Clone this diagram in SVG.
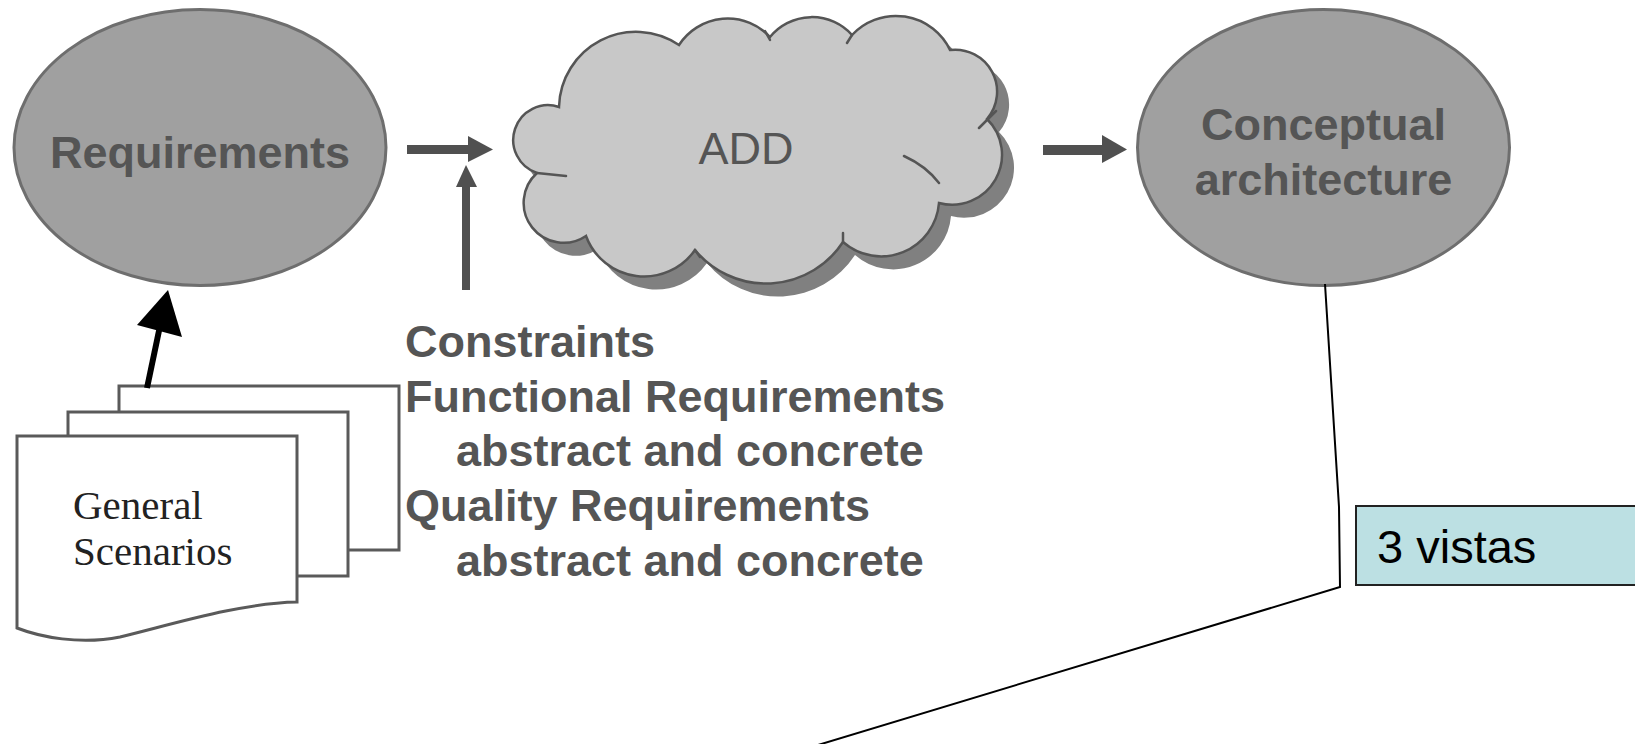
<svg xmlns="http://www.w3.org/2000/svg" width="1635" height="744" viewBox="0 0 1635 744">
  <style>
    .oval { fill: #a0a0a0; stroke: #6e6e6e; stroke-width: 3; }
    .lbl { font-family: "Liberation Sans", Arial, sans-serif; fill: #555555; }
    .bold { font-weight: bold; }
    .page { fill: #ffffff; stroke: #5a5a5a; stroke-width: 3; }
    .serif { font-family: "Liberation Serif", "Times New Roman", serif; fill: #222222; }
    .flow { fill: #505050; stroke: none; }
    .thin { fill: none; stroke: #000000; stroke-width: 2; }
    .crease { fill: none; stroke: #555555; stroke-width: 2.5; stroke-linecap: round; }
  </style>
  <defs>
    <!-- eleven overlapping bumps, traced clockwise from the upper left -->
    <path id="cloud-outline" d="M559,107
      A77,77 0 0 1 679,45
      A58,58 0 0 1 770,37
      A54,54 0 0 1 852,35
      A60,60 0 0 1 950,50
      A42,42 0 0 1 987,119
      A50,50 0 0 1 939,203
      A58,58 0 0 1 843,242
      A92,92 0 0 1 695,250
      A62,62 0 0 1 586,236
      A40,40 0 0 1 537,173
      A34,34 0 0 1 559,107 Z"/>
  </defs>

  <rect width="1635" height="744" fill="#ffffff"/>

  <!-- Requirements -->
  <g id="requirements">
    <ellipse class="oval" cx="200" cy="147.5" rx="186" ry="138"/>
    <text class="lbl bold" x="200" y="168" font-size="45" text-anchor="middle">Requirements</text>
  </g>

  <!-- ADD cloud with drop shadow -->
  <g id="add">
    <use href="#cloud-outline" transform="translate(12,13)" fill="#808080"/>
    <use href="#cloud-outline" fill="#c8c8c8" stroke="#555555" stroke-width="2.5"/>
    <path class="crease" d="M979,128 L996,111 M904,156 Q926,166 939,183 M537,173 L566,176 M765,31 L770,40 M852,35 L847,43 M843,233 L843,242 M695,250 L700,257"/>
    <text class="lbl" x="746" y="164" font-size="45" text-anchor="middle">ADD</text>
  </g>

  <!-- Conceptual architecture -->
  <g id="conceptual-architecture">
    <ellipse class="oval" cx="1323.5" cy="147.5" rx="186" ry="138"/>
    <text class="lbl bold" x="1323.5" y="140" font-size="45" text-anchor="middle">Conceptual</text>
    <text class="lbl bold" x="1323.5" y="195" font-size="45" text-anchor="middle">architecture</text>
  </g>

  <!-- General Scenarios: stacked pages -->
  <g id="general-scenarios">
    <rect class="page" x="119" y="386" width="280" height="164"/>
    <rect class="page" x="68" y="412" width="280" height="164"/>
    <path class="page" d="M17,436 H297 V602 C240,603 170,625 120,637 C80,645 40,637 17,628 Z"/>
    <text class="serif" x="73" y="519" font-size="41">General</text>
    <text class="serif" x="73" y="565" font-size="41">Scenarios</text>
  </g>

  <!-- Inputs list -->
  <g id="inputs">
    <text class="lbl bold" x="405" y="357" font-size="45">Constraints</text>
    <text class="lbl bold" x="405" y="412" font-size="45">Functional Requirements</text>
    <text class="lbl bold" x="456" y="466" font-size="45">abstract and concrete</text>
    <text class="lbl bold" x="405" y="521" font-size="45">Quality Requirements</text>
    <text class="lbl bold" x="456" y="576" font-size="45">abstract and concrete</text>
  </g>

  <!-- 3 vistas note -->
  <g id="vistas">
    <rect x="1356" y="506" width="290" height="79" fill="#bce0e3" stroke="#222222" stroke-width="2"/>
    <text x="1377" y="563" font-size="47" font-family="Liberation Sans, Arial, sans-serif" fill="#000000">3 vistas</text>
  </g>

  <!-- Connectors -->
  <g id="connectors">
    <!-- Requirements to ADD -->
    <rect class="flow" x="407" y="145" width="63" height="9"/>
    <polygon class="flow" points="468,136 493,149.5 468,162"/>
    <!-- inputs up into the flow -->
    <rect class="flow" x="462" y="184" width="8" height="106"/>
    <polygon class="flow" points="456,187 466,165 477,187"/>
    <!-- ADD to Conceptual architecture -->
    <rect class="flow" x="1043" y="145" width="61" height="10"/>
    <polygon class="flow" points="1102,135 1127,149.5 1102,163"/>
    <!-- General Scenarios to Requirements -->
    <line x1="147" y1="388" x2="160" y2="326" stroke="#000000" stroke-width="6"/>
    <polygon points="168,290 137,325 182,337" fill="#000000"/>
    <!-- callout from Conceptual architecture -->
    <polyline class="thin" points="1325,284 1339,507 1340,587 818,745"/>
  </g>
</svg>
